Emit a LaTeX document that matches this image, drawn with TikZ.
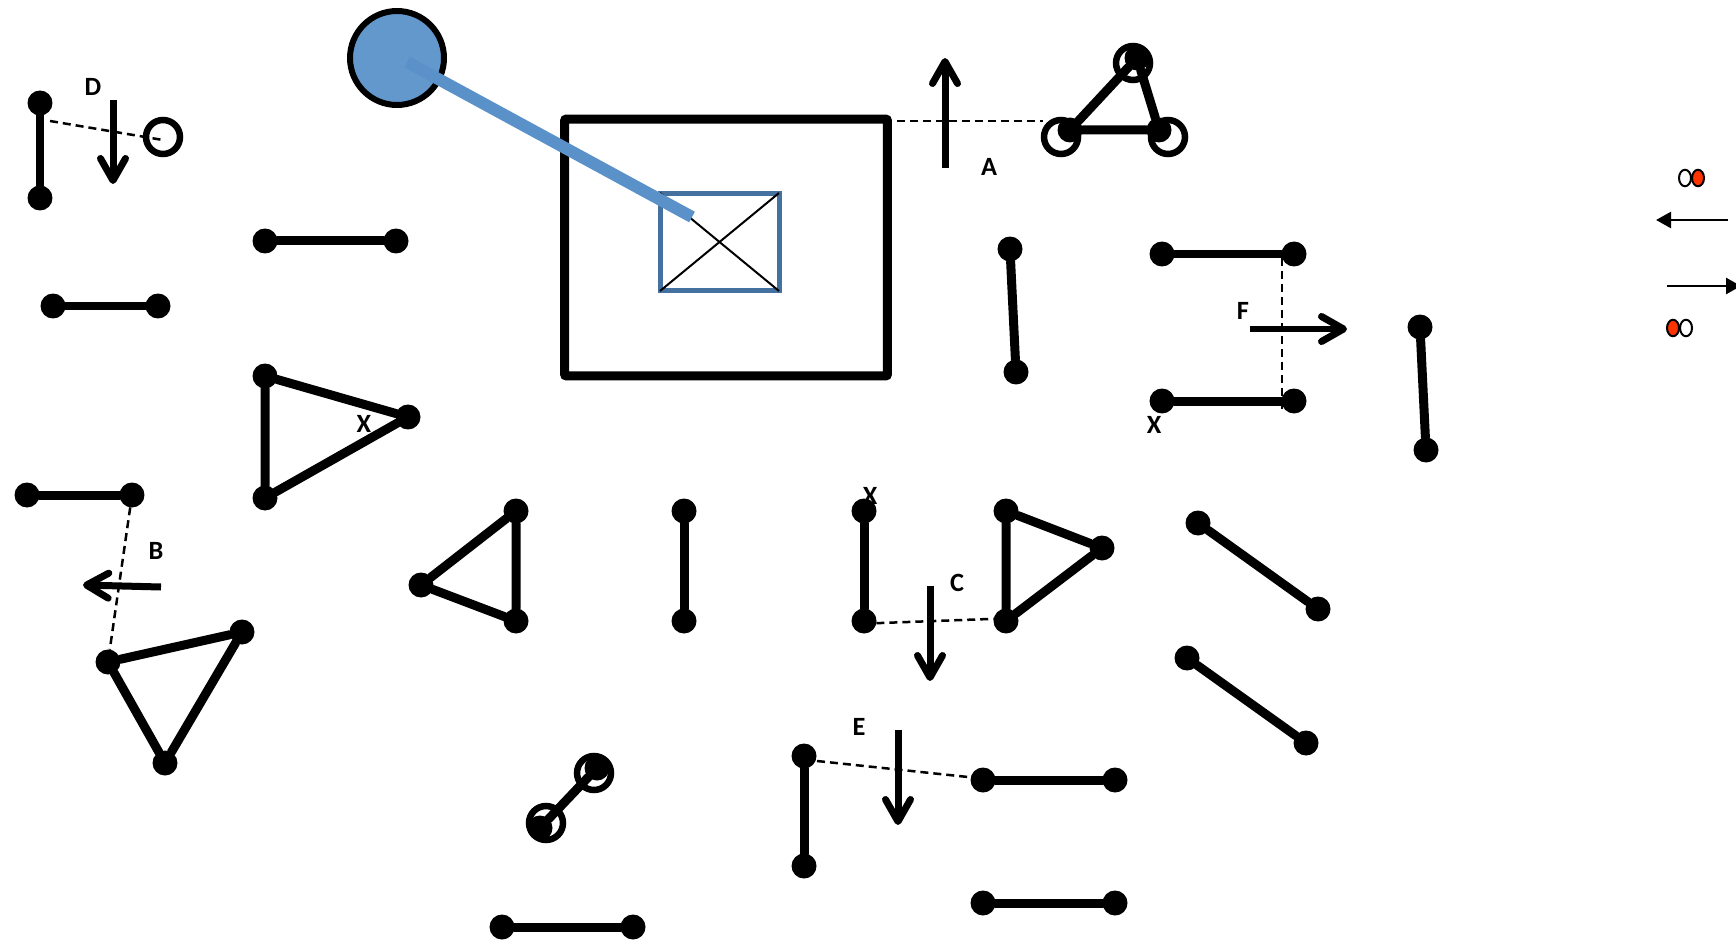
\documentclass[tikz,border=0pt]{standalone}
\usepackage{fontspec}
\setmainfont{Carlito}
\usetikzlibrary{arrows.meta,shapes.geometric}
\definecolor{ballblue}{HTML}{6398CC}
\definecolor{wireblue}{HTML}{5A91C8}
\definecolor{boxblue}{HTML}{44719F}
\definecolor{spinred}{HTML}{FF3300}
\tikzset{
	dot/.style={circle,fill=black,inner sep=0,outer sep=0,minimum size=0.5cm},
	ring/.style={circle,draw=black,line width=0.13cm,inner sep=0,outer sep=0,minimum size=0.68cm},
	bar/.style={line width=0.18cm,line cap=round},
	mark dash/.style={line width=0.05cm,dash pattern=on 0.16cm off 0.1cm},
	move/.style={line width=0.14cm,-{Straight Barb[length=0.44cm,width=0.5cm,line width=0.14cm,round]}},
	spin/.style={line width=0.05cm,-{Triangle[length=0.3cm,width=0.32cm]}},
	lab/.style={font=\bfseries\fontsize{15}{17}\selectfont,inner sep=0},
	spinball/.style={ellipse,draw=black,line width=0.04cm,inner sep=0,outer sep=0,minimum width=0.24cm,minimum height=0.33cm}
}
\begin{document}
\begin{tikzpicture}[x=0.02cm,y=-0.02cm]
	\useasboundingbox (0,0) rectangle (1736,942);
	%%%%% frame and gate %%%%%
	\node[draw=black,line width=0.18cm,rounded corners=0.04cm,inner sep=0,outer sep=0,minimum width=6.46cm,minimum height=5.14cm] (frame) at (726,247.5) {};
	\node[draw=boxblue,line width=0.1cm,inner sep=0,outer sep=0,minimum width=2.38cm,minimum height=1.96cm] (gate) at (719.5,242) {};
	\draw[line width=0.04cm] (gate.north west) -- (gate.south east);
	\draw[line width=0.04cm] (gate.south west) -- (gate.north east);
	\node[circle,draw=black,fill=ballblue,line width=0.12cm,inner sep=0,outer sep=0,minimum size=1.88cm] (ball) at (397,58) {};
	\coordinate (wirestart) at (407,62);
	\coordinate (wireend) at (692,217);
	\draw[wireblue,line width=0.24cm] (wirestart) -- (wireend);

	%%%%% top left %%%%%
	\node[dot] (da) at (40,103) {};
	\node[dot] (db) at (40,198) {};
	\draw[bar] (da) -- (db);
	\node[ring] (dc) at (163,137) {};
	\coordinate (dstart) at (50,121);
	\coordinate (dend) at (163,140);
	\draw[mark dash] (dstart) -- (dend);
	\coordinate (dfrom) at (113,100);
	\coordinate (dto) at (113,184);
	\draw[move] (dfrom) -- (dto);
	\node[lab] (dlab) at (93,87) {D};
	\node[dot] (ea) at (53,306) {};
	\node[dot] (eb) at (158,306) {};
	\draw[bar] (ea) -- (eb);
	\node[dot] (fa) at (265,241) {};
	\node[dot] (fb) at (396,241) {};
	\draw[bar] (fa) -- (fb);

	%%%%% left triangles %%%%%
	\node[dot] (ga) at (265,376) {};
	\node[dot] (gb) at (408,417) {};
	\node[dot] (gc) at (265,498) {};
	\draw[bar] (ga) -- (gb) -- (gc) -- (ga);
	\node[lab] (xa) at (364,424) {X};
	\node[dot] (ha) at (27,495) {};
	\node[dot] (hb) at (132,495) {};
	\draw[bar] (ha) -- (hb);
	\node[dot] (ia) at (108,662) {};
	\node[dot] (ib) at (242,632) {};
	\node[dot] (ic) at (165,763) {};
	\draw[bar] (ia) -- (ib) -- (ic) -- (ia);
	\draw[mark dash] (hb) -- (ia);
	\coordinate (bfrom) at (161,587);
	\coordinate (bto) at (83,585);
	\draw[move] (bfrom) -- (bto);
	\node[lab] (blab) at (156,551) {B};

	%%%%% middle row %%%%%
	\node[dot] (ja) at (516,511) {};
	\node[dot] (jb) at (421,585) {};
	\node[dot] (jc) at (516,621) {};
	\draw[bar] (ja) -- (jb) -- (jc) -- (ja);
	\node[dot] (ka) at (684,511) {};
	\node[dot] (kb) at (684,621) {};
	\draw[bar] (ka) -- (kb);
	\node[dot] (la) at (864,511) {};
	\node[dot] (lb) at (864,621) {};
	\draw[bar] (la) -- (lb);
	\node[lab] (xb) at (870,496) {X};
	\node[dot] (ma) at (1006,511) {};
	\node[dot] (mb) at (1102,548) {};
	\node[dot] (mc) at (1006,621) {};
	\draw[bar] (ma) -- (mb) -- (mc) -- (ma);
	\draw[mark dash] (lb.-10) -- (mc.170);
	\coordinate (cfrom) at (930,586);
	\coordinate (cto) at (930,681);
	\draw[move] (cfrom) -- (cto);
	\node[lab] (clab) at (957,583) {C};
	\node[dot] (na) at (1198,523) {};
	\node[dot] (nb) at (1318,609) {};
	\draw[bar] (na) -- (nb);
	\node[dot] (oa) at (1187,658) {};
	\node[dot] (ob) at (1306,743) {};
	\draw[bar] (oa) -- (ob);

	%%%%% bottom %%%%%
	\node[ring] (pr) at (594,773) {};
	\node[ring] (qr) at (546,823) {};
	\node[dot] (pa) at (597,768) {};
	\node[dot] (pb) at (540,828) {};
	\draw[bar] (pa) -- (pb);
	\node[dot] (ra) at (502,927) {};
	\node[dot] (rb) at (633,927) {};
	\draw[bar] (ra) -- (rb);
	\node[dot] (sa) at (804,756) {};
	\node[dot] (sb) at (804,866) {};
	\draw[bar] (sa) -- (sb);
	\node[dot] (ta) at (983,780) {};
	\node[dot] (tb) at (1115,780) {};
	\draw[bar] (ta) -- (tb);
	\node[dot] (ua) at (983,903) {};
	\node[dot] (ub) at (1115,903) {};
	\draw[bar] (ua) -- (ub);
	\coordinate (estart) at (817,761);
	\coordinate (eend) at (968,777);
	\draw[mark dash] (estart) -- (eend);
	\coordinate (efrom) at (898,730);
	\coordinate (eto) at (898,825);
	\draw[move] (efrom) -- (eto);
	\node[lab] (elab) at (859,727) {E};

	%%%%% top right %%%%%
	\coordinate (afrom) at (945,168);
	\coordinate (ato) at (945,58);
	\draw[move] (afrom) -- (ato);
	\node[lab] (alab) at (989,167) {A};
	\node[ring] (vr) at (1133,63) {};
	\node[ring] (wr) at (1061,137) {};
	\node[ring] (yr) at (1168,137) {};
	\node[dot] (va) at (1137,58) {};
	\node[dot] (wa) at (1070,130) {};
	\node[dot] (ya) at (1159,130) {};
	\draw[bar] (va) -- (wa) -- (ya) -- (va);
	\coordinate (astart) at (897,121);
	\coordinate (aend) at (1043,121);
	\draw[mark dash] (astart) -- (aend);
	\node[dot] (za) at (1010,249) {};
	\node[dot] (zb) at (1016,372) {};
	\draw[bar] (za) -- (zb);
	\node[dot] (aa) at (1162,254) {};
	\node[dot] (ab) at (1294,254) {};
	\draw[bar] (aa) -- (ab);
	\node[dot] (ba) at (1162,401) {};
	\node[dot] (bb) at (1294,401) {};
	\draw[bar] (ba) -- (bb);
	\node[lab] (xc) at (1154,425) {X};
	\coordinate (fstart) at (1282,258);
	\coordinate (fend) at (1282,410);
	\draw[mark dash] (fstart) -- (fend);
	\coordinate (ffrom) at (1250,329);
	\coordinate (fto) at (1347,329);
	\draw[move] (ffrom) -- (fto);
	\node[lab] (flab) at (1243,311) {F};
	\node[dot] (ca) at (1420,327) {};
	\node[dot] (cb) at (1426,450) {};
	\draw[bar] (ca) -- (cb);

	%%%%% legend %%%%%
	\node[spinball,fill=white] (wup) at (1685,178) {};
	\node[spinball,fill=spinred] (rup) at (1698,178) {};
	\coordinate (leftfrom) at (1728,220);
	\coordinate (leftto) at (1656,220);
	\draw[spin] (leftfrom) -- (leftto);
	\coordinate (rightfrom) at (1667,286);
	\coordinate (rightto) at (1741,286);
	\draw[spin] (rightfrom) -- (rightto);
	\node[spinball,fill=white] (wdn) at (1686,328) {};
	\node[spinball,fill=spinred] (rdn) at (1673,328) {};
\end{tikzpicture}
\end{document}
